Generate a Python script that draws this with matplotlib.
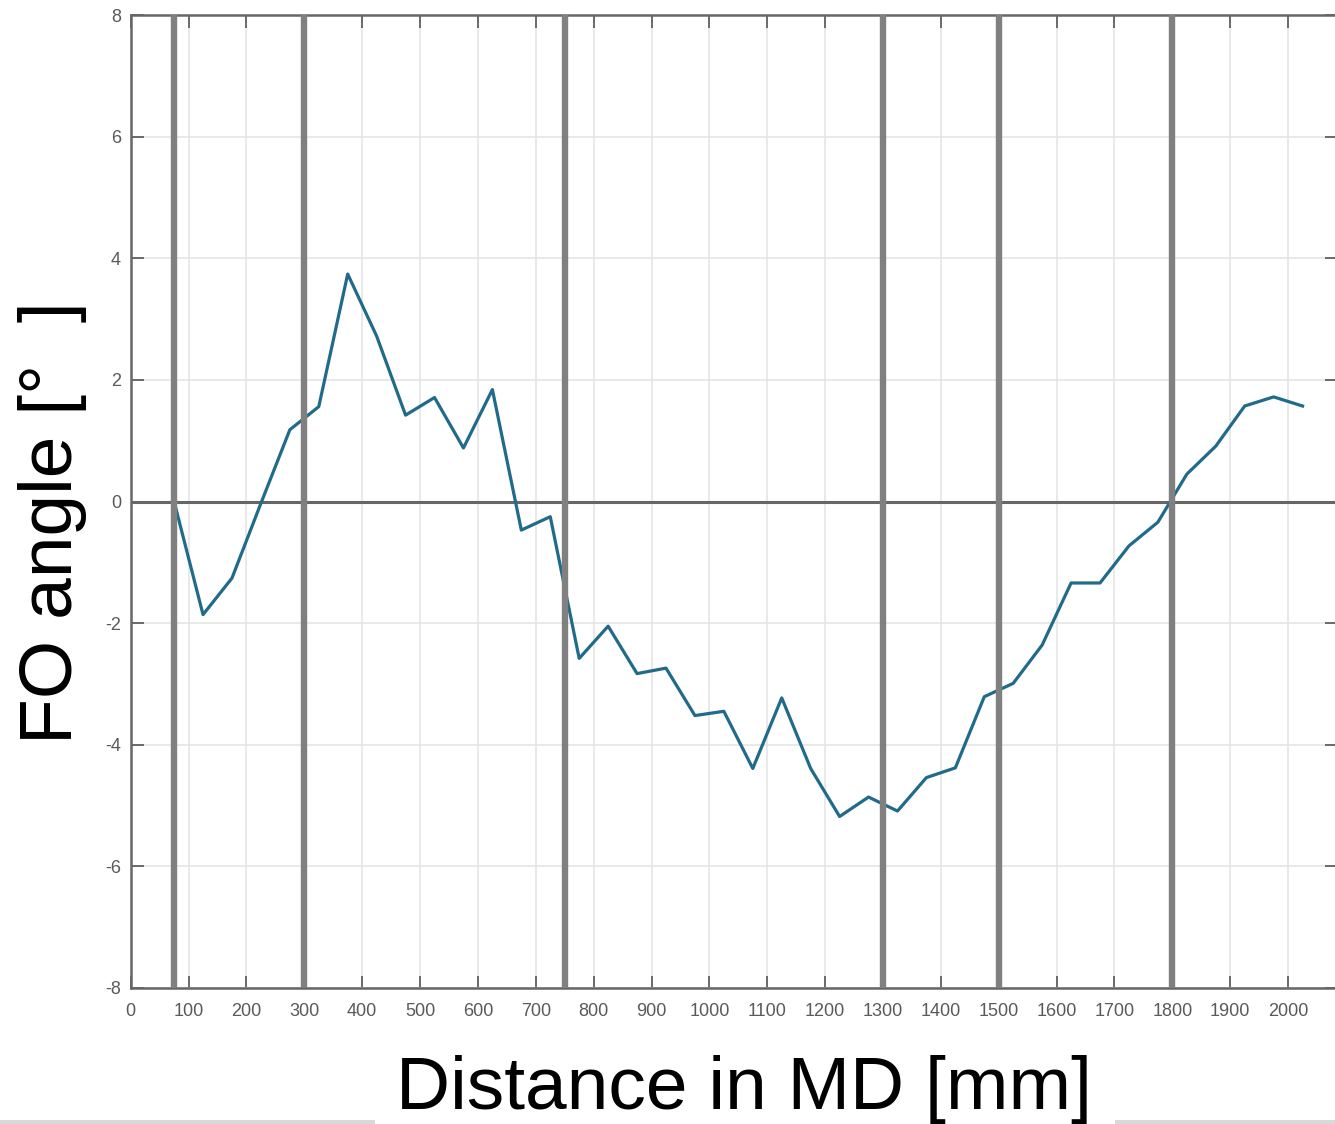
import matplotlib
matplotlib.use("Agg")
from matplotlib import pyplot as plt
from matplotlib.patches import Rectangle

# FO angle along the machine direction
distance_mm = [75, 125, 175, 225, 275, 325, 375, 425, 475, 525,
               575, 625, 675, 725, 775, 825, 875, 925, 975, 1025,
               1075, 1125, 1175, 1225, 1275, 1325, 1375, 1425, 1475, 1525,
               1575, 1625, 1675, 1725, 1775, 1825, 1875, 1925, 1975, 2025]
fo_angle = [0.0, -1.86, -1.26, -0.03, 1.18, 1.56, 3.74, 2.72, 1.42, 1.71,
            0.88, 1.84, -0.47, -0.25, -2.58, -2.05, -2.83, -2.74, -3.52, -3.45,
            -4.39, -3.23, -4.39, -5.18, -4.86, -5.09, -4.54, -4.38, -3.21, -2.99,
            -2.36, -1.34, -1.34, -0.73, -0.34, 0.45, 0.91, 1.57, 1.72, 1.57]

# section boundaries (thick gray lines)
boundaries = [75, 300, 750, 1300, 1500, 1800]

x_ticks = list(range(0, 2001, 100))
y_ticks = list(range(-8, 9, 2))

plt.rcParams['font.family'] = ['Liberation Sans', 'DejaVu Sans']
plt.rcParams['axes.unicode_minus'] = False

fig = plt.figure(figsize=(13.35, 11.24), dpi=100)
W, H = 1335, 1124
ax = fig.add_axes([130.7 / W, (H - 988) / H, (2085 * 0.5787) / W, 973 / H])

ax.grid(True, color='#e3e3e3', linewidth=1.1, zorder=0)
ax.axhline(0, color='#666666', linewidth=2.2, zorder=2)
ax.plot(distance_mm, fo_angle, color='#206a8a', linewidth=2.3, zorder=3)
for b in boundaries:
    ax.axvline(b, color='#808080', linewidth=4.6, zorder=4)

ax.set_xlim(0, 2085)
ax.set_ylim(-8, 8)
ax.set_xticks(x_ticks)
ax.set_yticks(y_ticks)
ax.tick_params(direction='in', length=9, width=1.2, color='#555555',
               labelsize=13, labelcolor='#5a5a5a', top=True, right=True)
ax.tick_params(axis='x', pad=11)
ax.tick_params(axis='y', pad=7)
for s in ax.spines.values():
    s.set_color('#666666')
    s.set_linewidth(1.8)

fig.text(53 / W, 1 - 523 / H, "FO angle [°  ]", rotation=90,
         ha='center', va='center', fontsize=54)
fig.text(744 / W, 1 - 1109 / H, "Distance in MD [mm]",
         ha='center', va='baseline', fontsize=54)

# light gray strips along the bottom edge of the picture
fig.add_artist(Rectangle((0, 0), 375 / W, 4 / H, transform=fig.transFigure,
                         color='#d9d9d9', linewidth=0))
fig.add_artist(Rectangle((1115 / W, 0), 220 / W, 4 / H, transform=fig.transFigure,
                         color='#d9d9d9', linewidth=0))

fig.savefig("out.png", dpi=100)
